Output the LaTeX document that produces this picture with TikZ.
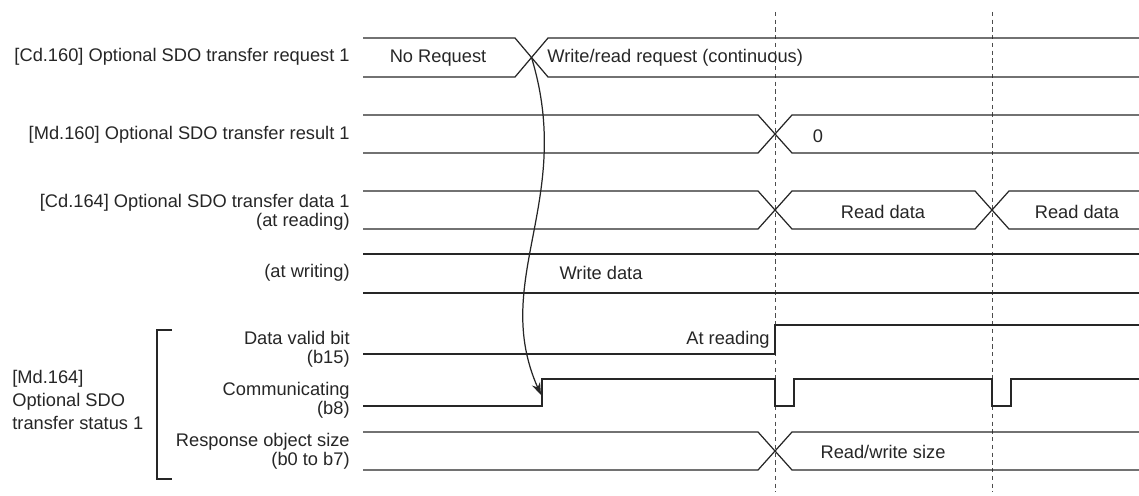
\documentclass[tikz,border=0pt]{standalone}
\usepackage{fontspec}
\setmainfont{Liberation Sans}
\usetikzlibrary{arrows.meta}
\begin{document}
\begin{tikzpicture}[
    x=0.02cm, y=-0.02cm,
    sig/.style={draw=black!85, line width=0.7pt},
    thick sig/.style={draw=black!85, line width=1.2pt},
    guide/.style={draw=black!70, line width=0.55pt, dash pattern=on 2.4pt off 2pt},
    lbl/.style={anchor=east, align=right, inner sep=0pt, text=black!85, font=\fontsize{10.4}{10.6}\selectfont},
    val/.style={inner sep=0pt, text=black!85, font=\fontsize{10.4}{10.6}\selectfont}
]
    \useasboundingbox (0,0) rectangle (1139,496);

    % signal names
    \node[lbl] (reqlbl) at (350,57) {[Cd.160] Optional SDO transfer request 1};
    \node[lbl] (reslbl) at (350,135) {[Md.160] Optional SDO transfer result 1};
    \node[lbl] (datalbl) at (350,212) {[Cd.164] Optional SDO transfer data 1\\(at reading)};
    \node[lbl] (wrlbl) at (350,273) {(at writing)};
    \node[lbl] (validlbl) at (350,349) {Data valid bit\\(b15)};
    \node[lbl] (commlbl) at (350,400) {Communicating\\(b8)};
    \node[lbl] (sizelbl) at (350,451) {Response object size\\(b0 to b7)};
    \node[val, anchor=west, align=left, font=\fontsize{10.4}{13.2}\selectfont] (statlbl) at (12,400) {[Md.164]\\Optional SDO\\transfer status 1};
    \draw[sig] (172,330) -- (157,330) -- (157,479) -- (172,479);

    % timing guides
    \draw[guide] (775,12) -- (775,492);
    \draw[guide] (992,12) -- (992,492);

    % [Cd.160]
    \draw[sig] (363,38) -- (515,38) -- (548,77) -- (1139,77);
    \draw[sig] (363,77) -- (515,77) -- (548,38) -- (1139,38);
    \coordinate (reqx) at (531.5,57.5);
    \node[val] (noreq) at (438,58) {No Request};
    \node[val, anchor=west] (wrreq) at (547,58) {Write/read request (continuous)};

    % [Md.160]
    \draw[sig] (363,115) -- (758,115) -- (792,153) -- (1139,153);
    \draw[sig] (363,153) -- (758,153) -- (792,115) -- (1139,115);
    \node[val] (zero) at (818,136) {0};

    % [Cd.164] at reading
    \draw[sig] (363,191) -- (758,191) -- (792,229) -- (975,229) -- (1009,191) -- (1139,191);
    \draw[sig] (363,229) -- (758,229) -- (792,191) -- (975,191) -- (1009,229) -- (1139,229);
    \node[val] (rd1) at (883,212) {Read data};
    \node[val] (rd2) at (1077,212) {Read data};

    % [Cd.164] at writing
    \draw[sig] (363,254) -- (1139,254);
    \draw[sig] (363,293) -- (1139,293);
    \node[val] (wd) at (601,273) {Write data};

    % b15
    \draw[thick sig] (363,354) -- (775,354) -- (775,325) -- (1139,325);
    \node[val, anchor=east] (atrd) at (770,340) {At reading};

    % b8
    \draw[sig] (363,406) -- (542,406) -- (542,379) -- (775,379) -- (775,406) -- (794,406)
        -- (794,379) -- (992,379) -- (992,406) -- (1011,406) -- (1011,379) -- (1139,379);
    \coordinate (commrise) at (541,395);

    % b0 to b7
    \draw[sig] (363,432) -- (758,432) -- (792,470) -- (1139,470);
    \draw[sig] (363,470) -- (758,470) -- (792,432) -- (1139,432);
    \node[val] (rwsize) at (883,452) {Read/write size};

    \draw[sig, -{Stealth[length=7pt, width=5pt]}] (reqx) .. controls (575,200) and (490,280) .. (commrise);
\end{tikzpicture}
\end{document}
